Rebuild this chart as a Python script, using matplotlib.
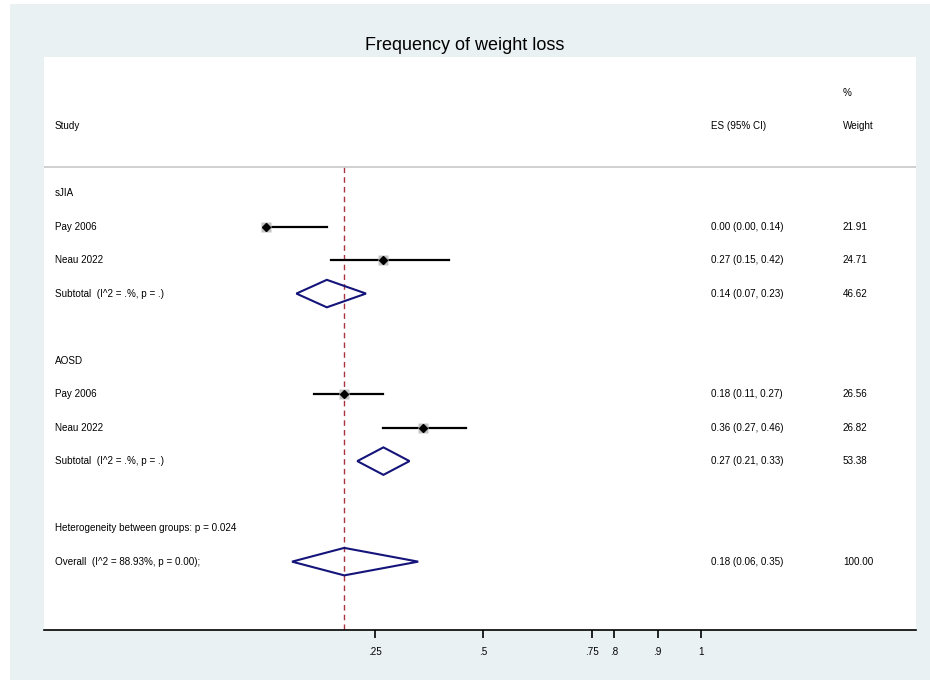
import numpy as np
import matplotlib
matplotlib.use('Agg')
import matplotlib.pyplot as plt
from matplotlib.patches import Polygon, Rectangle

plt.rcParams['font.family'] = ['Liberation Sans', 'DejaVu Sans']

# Veriler
labels = ['sJIA', 'Pay 2006', 'Neau 2022', 'Subtotal  (I^2 = .%, p = .)', '',
          'AOSD', 'Pay 2006', 'Neau 2022', 'Subtotal  (I^2 = .%, p = .)', '',
          'Heterogeneity between groups: p = 0.024', 'Overall  (I^2 = 88.93%, p = 0.00);']
kinds = ['group', 'study', 'study', 'sub', 'blank',
         'group', 'study', 'study', 'sub', 'blank',
         'text', 'sub']
es = [None, 0.00, 0.27, 0.14, None, None, 0.18, 0.36, 0.27, None, None, 0.18]
lo = [None, 0.00, 0.15, 0.07, None, None, 0.11, 0.27, 0.21, None, None, 0.06]
hi = [None, 0.14, 0.42, 0.23, None, None, 0.27, 0.46, 0.33, None, None, 0.35]
es_text = ['', '0.00 (0.00, 0.14)', '0.27 (0.15, 0.42)', '0.14 (0.07, 0.23)', '',
           '', '0.18 (0.11, 0.27)', '0.36 (0.27, 0.46)', '0.27 (0.21, 0.33)', '',
           '', '0.18 (0.06, 0.35)']
weights = ['', '21.91', '24.71', '46.62', '', '', '26.56', '26.82', '53.38', '', '', '100.00']
overall_es = 0.18
xticks = [0.25, 0.5, 0.75, 0.8, 0.9, 1]
xticklabels = ['.25', '.5', '.75', '.8', '.9', '1']

bg = '#e9f1f3'
fig = plt.figure(figsize=(9.3, 6.8), dpi=100)
fig.patch.set_facecolor('white')
fig.patches.append(Rectangle((10 / 930, 0), 1, 1 - 4 / 680, transform=fig.transFigure,
                             facecolor=bg, edgecolor='none', zorder=-10))

ax = fig.add_axes([44 / 930, 50 / 680, 872 / 930, 573 / 680])
ax.set_facecolor('white')
ax.set_xlim(-0.51, 1.494)
ax.set_ylim(13.04, -4.06)

fs = 7.1
x_lab, x_es, x_w = -0.485, 1.023, 1.326

# Başlıklar
fig.text(0.5, 1 - 45 / 680, 'Frequency of weight loss', ha='center', va='center', fontsize=13)
ax.text(x_lab, -2, 'Study', fontsize=fs, va='center')
ax.text(x_es, -2, 'ES (95% CI)', fontsize=fs, va='center')
ax.text(x_w, -3, '%', fontsize=fs, va='center')
ax.text(x_w, -2, 'Weight', fontsize=fs, va='center')
ax.axhline(-0.78, color='#c8c8c8', lw=1.2)

# Referans çizgisi
ax.plot([overall_es, overall_es], [-0.78, 13.04], color='#a8343f', lw=1, ls=(0, (4, 3)), zorder=1)

for i, (lab, k) in enumerate(zip(labels, kinds)):
    if lab:
        ax.text(x_lab, i, lab, fontsize=fs, va='center')
    if es_text[i]:
        ax.text(x_es, i, es_text[i], fontsize=fs, va='center')
        ax.text(x_w, i, weights[i], fontsize=fs, va='center')
    if k == 'study':
        ax.plot([lo[i], hi[i]], [i, i], color='black', lw=1.6, zorder=3)
        ax.plot(es[i], i, marker='s', ms=7.5, color='#c4c4c4', mec='none', zorder=4)
        ax.plot(es[i], i, marker='D', ms=4, color='black', zorder=5)
    elif k == 'sub':
        h = 0.41
        d = Polygon([[lo[i], i], [es[i], i - h], [hi[i], i], [es[i], i + h]], closed=True,
                    fill=False, edgecolor='#14147a', lw=1.5, zorder=3)
        ax.add_patch(d)

# Eksen
for s in ['top', 'left', 'right']:
    ax.spines[s].set_visible(False)
ax.spines['bottom'].set_linewidth(1.2)
ax.set_yticks([])
ax.set_xticks(xticks)
ax.set_xticklabels(xticklabels, fontsize=fs)
ax.tick_params(axis='x', length=6, width=1.2, pad=6)

plt.savefig('out.png', dpi=100, facecolor=fig.get_facecolor())
